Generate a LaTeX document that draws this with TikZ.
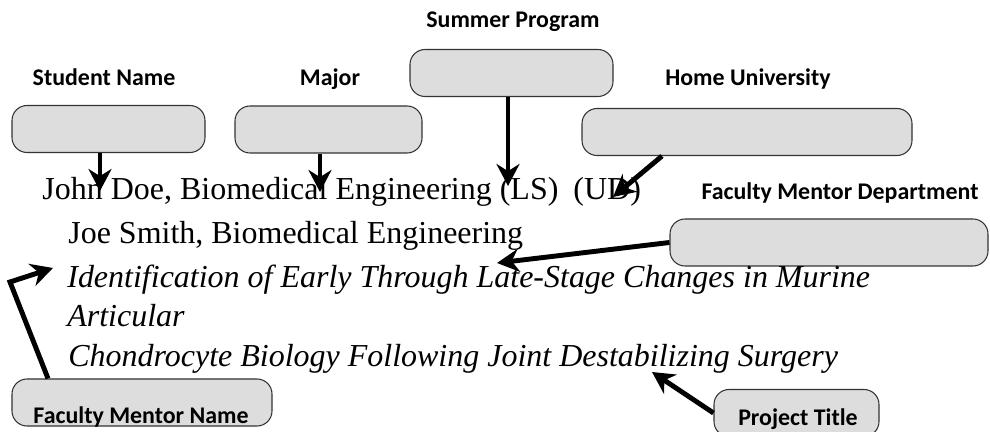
\documentclass[tikz,border=0pt]{standalone}
\usepackage{fontspec}
\setmainfont{Liberation Serif}
\newfontfamily\labelfont{Carlito}
\usetikzlibrary{arrows.meta}
\definecolor{boxgray}{RGB}{221,221,221}

\begin{document}
\begin{tikzpicture}[
        %Environment Config
        font=\fontsize{18.2}{22}\selectfont,
        MyArrow/.style={%Style for the pointers
            -{Stealth[length=0.44cm,width=0.46cm]},
            black,
            line width=2.8pt
        },
        FieldBox/.style={%Style for the empty fields
            draw=black!80,
            fill=boxgray,
            rounded corners=0.3cm,
            line width=0.6pt,
            minimum width=#1,
            minimum height=0.94cm,
            inner sep=0pt
        },
        FieldLabel/.style={%Style for the field names
            font=\labelfont\bfseries\fontsize{13.6}{15}\selectfont,
            anchor=base,
            inner sep=0pt
        },
        EntryLine/.style={%Style for the sample entry
            anchor=base west,
            inner sep=0pt
        }
    ]
    \useasboundingbox (0,0) rectangle (19.8,-8.64);

    %%%%%%%%%%%%%%%%%%%%%%%%%%%%%%%%%%%%%%%%%%%%%%%%%%%%%%%%%%%%%%%%%%%%%%%%%%%%
    % FIELDS
    %%%%%%%%%%%%%%%%%%%%%%%%%%%%%%%%%%%%%%%%%%%%%%%%%%%%%%%%%%%%%%%%%%%%%%%%%%%%
    % top row
    \draw (2.17,-2.58) node[FieldBox=3.86cm] (StuBox) {};
    \draw (6.57,-2.59) node[FieldBox=3.74cm] (MajBox) {};
    \draw (10.23,-1.46) node[FieldBox=4.06cm] (SumBox) {};
    \draw (14.94,-2.64) node[FieldBox=6.60cm] (HomeBox) {};
    % right and bottom
    \draw (16.58,-4.85) node[FieldBox=6.36cm] (FmdBox) {};
    \draw (2.84,-8.05) node[FieldBox=5.20cm] (FmnBox) {};
    \draw (15.93,-8.26) node[FieldBox=3.30cm] (PrjBox) {};

    % field names
    \draw (10.26,-0.56) node[FieldLabel] (SumLbl) {Summer Program};
    \draw (2.08,-1.72) node[FieldLabel] (StuLbl) {Student Name};
    \draw (6.60,-1.72) node[FieldLabel] (MajLbl) {Major};
    \draw (14.96,-1.72) node[FieldLabel] (HomeLbl) {Home University};
    \draw (16.80,-4.00) node[FieldLabel] (FmdLbl) {Faculty Mentor Department};
    \draw (2.82,-8.48) node[FieldLabel] (FmnLbl) {Faculty Mentor Name};
    \draw (15.96,-8.50) node[FieldLabel] (PrjLbl) {Project Title};

    %%%%%%%%%%%%%%%%%%%%%%%%%%%%%%%%%%%%%%%%%%%%%%%%%%%%%%%%%%%%%%%%%%%%%%%%%%%%
    % SAMPLE ENTRY
    %%%%%%%%%%%%%%%%%%%%%%%%%%%%%%%%%%%%%%%%%%%%%%%%%%%%%%%%%%%%%%%%%%%%%%%%%%%%
    \draw (0.84,-4.00) node[EntryLine] (Line1) {John Doe, Biomedical Engineering (LS)\hspace{0.14cm} (UD)};
    \draw (1.36,-4.88) node[EntryLine] (Line2) {Joe Smith, Biomedical Engineering};
    \draw (1.34,-5.76) node[EntryLine] (Line3) {\itshape Identification of Early Through Late-Stage Changes in Murine};
    \draw (1.34,-6.54) node[EntryLine] (Line4) {\itshape Articular};
    \draw (1.36,-7.34) node[EntryLine] (Line5) {\itshape Chondrocyte Biology Following Joint Destabilizing Surgery};

    % arrow ends
    \coordinate (StuTip) at (2.00,-3.82);
    \coordinate (MajTip) at (6.40,-3.84);
    \coordinate (SumTip) at (10.16,-3.72);
    \coordinate (HomeTip) at (12.26,-3.94);
    \coordinate (FmdTip) at (9.94,-5.26);
    \coordinate (FmnBend) at (0.20,-5.64);
    \coordinate (FmnTip) at (1.06,-5.36);
    \coordinate (PrjTip) at (13.04,-7.44);

    %%%%%%%%%%%%%%%%%%%%%%%%%%%%%%%%%%%%%%%%%%%%%%%%%%%%%%%%%%%%%%%%%%%%%%%%%%%%
    % POINTERS
    %%%%%%%%%%%%%%%%%%%%%%%%%%%%%%%%%%%%%%%%%%%%%%%%%%%%%%%%%%%%%%%%%%%%%%%%%%%%
    \draw[MyArrow] (StuTip |- StuBox.south) -- (StuTip);
    \draw[MyArrow] (MajTip |- MajBox.south) -- (MajTip);
    \draw[MyArrow] (SumTip |- SumBox.south) -- (SumTip);
    \draw[MyArrow] ([xshift=-1.70cm]HomeBox.south) -- (HomeTip);
    \draw[MyArrow] (FmdBox.west) -- (FmdTip);
    \draw[MyArrow, line join=miter] ([xshift=-1.88cm]FmnBox.north) -- (FmnBend) -- (FmnTip);
    \draw[MyArrow] (PrjBox.west) -- (PrjTip);
\end{tikzpicture}
\end{document}
